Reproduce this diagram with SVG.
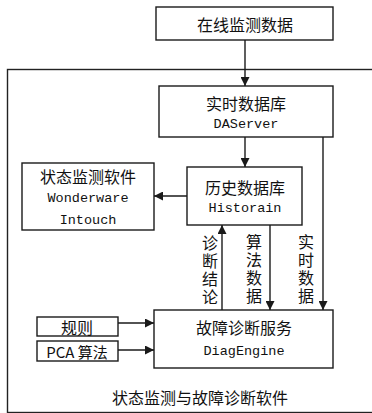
<svg xmlns="http://www.w3.org/2000/svg" width="372" height="413" viewBox="0 0 372 413">
<defs>
<marker id="arr" viewBox="0 0 10 10" refX="10" refY="5" markerWidth="9" markerHeight="9" markerUnits="userSpaceOnUse" orient="auto">
<path d="M0,0 L10,5 L0,10 Z" fill="#1a1a1a"/>
</marker>
</defs>
<style>
.box{fill:#fff;stroke:#1a1a1a;stroke-width:1.4}
.cn{font-family:"Noto Sans CJK SC","Liberation Serif",sans-serif;font-size:16px;fill:#111;text-anchor:middle;dominant-baseline:central}
.en{font-family:"Liberation Mono","Noto Sans CJK SC",monospace;font-size:13.5px;fill:#111;text-anchor:middle;dominant-baseline:central}
.vt{font-family:"Noto Sans CJK SC",sans-serif;font-size:16px;fill:#111;text-anchor:middle;writing-mode:vertical-rl;letter-spacing:2px}
.ln{fill:none;stroke:#1a1a1a;stroke-width:1.4}
</style>
<rect width="372" height="413" fill="#fff"/>
<g id="outer">
<rect x="7.5" y="69.5" width="400" height="343" fill="none" stroke="#222" stroke-width="1.4"/>
<text class="cn" x="200" y="397">状态监测与故障诊断软件</text>
</g>
<g id="online">
<rect class="box" x="156" y="7" width="177" height="33"/>
<text class="cn" x="245" y="24">在线监测数据</text>
</g>
<g id="rtdb">
<rect class="box" x="159" y="86" width="174" height="51"/>
<text class="cn" x="246" y="103">实时数据库</text>
<text class="en" x="246" y="124">DAServer</text>
</g>
<g id="monitor">
<rect class="box" x="22" y="163" width="132" height="67"/>
<text class="cn" x="88" y="176">状态监测软件</text>
<text class="en" x="88" y="198">Wonderware</text>
<text class="en" x="88" y="220">Intouch</text>
</g>
<g id="hist">
<rect class="box" x="187" y="167" width="115" height="58"/>
<text class="cn" x="245" y="187">历史数据库</text>
<text class="en" x="245" y="208">Historain</text>
</g>
<g id="diag">
<rect class="box" x="154" y="310" width="179" height="58"/>
<text class="cn" x="244" y="327">故障诊断服务</text>
<text class="en" x="244" y="351">DiagEngine</text>
</g>
<g id="rule">
<rect class="box" x="37" y="317" width="81" height="19"/>
<text class="cn" x="77" y="326.5">规则</text>
</g>
<g id="pca">
<rect class="box" x="37" y="341" width="81" height="20"/>
<text class="cn" x="77" y="351" style="font-size:15px">PCA 算法</text>
</g>
<g id="connectors">
<line class="ln" x1="245" y1="40" x2="245" y2="86" marker-end="url(#arr)"/>
<line class="ln" x1="245" y1="137" x2="245" y2="167" marker-end="url(#arr)"/>
<line class="ln" x1="187" y1="196" x2="154" y2="196" marker-end="url(#arr)"/>
<line class="ln" x1="222" y1="310" x2="222" y2="225" marker-end="url(#arr)"/>
<line class="ln" x1="270" y1="225" x2="270" y2="310" marker-end="url(#arr)"/>
<line class="ln" x1="323" y1="137" x2="323" y2="310" marker-end="url(#arr)"/>
<line class="ln" x1="118" y1="323" x2="154" y2="323" marker-end="url(#arr)"/>
<line class="ln" x1="118" y1="350" x2="154" y2="350" marker-end="url(#arr)"/>
</g>
<g id="labels">
<text class="vt" x="210" y="271">诊断结论</text>
<text class="vt" x="254" y="270">算法数据</text>
<text class="vt" x="306" y="270">实时数据</text>
</g>
</svg>
